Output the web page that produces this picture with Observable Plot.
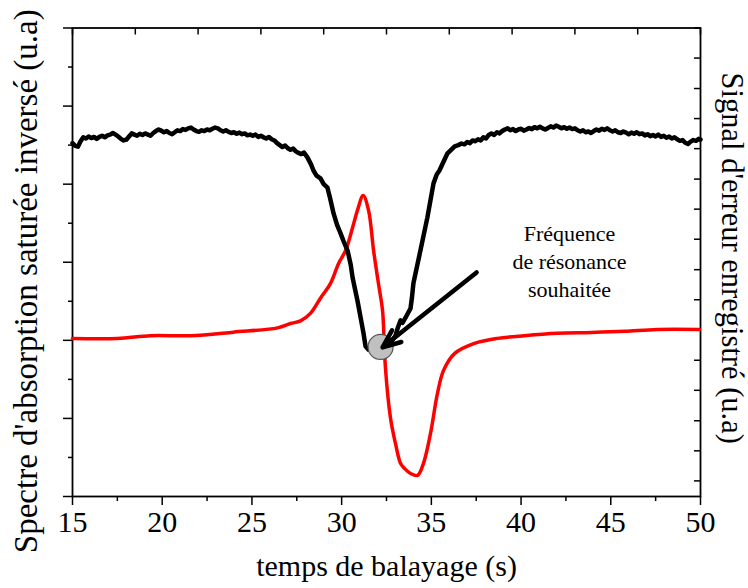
<!DOCTYPE html>
<html>
<head>
<meta charset="utf-8">
<script src="https://cdn.jsdelivr.net/npm/d3@7"></script>
<script src="https://cdn.jsdelivr.net/npm/@observablehq/plot@0.6"></script>
<style>
  html, body { margin: 0; padding: 0; background: #fff; }
  #chart svg { display: block; }
</style>
</head>
<body>
<div id="chart"></div>
<script>
// --- Data ---
const xLabel = "temps de balayage (s)";
const yLeftLabel = "Spectre d'absorption saturée inversé (u.a)";
const yRightLabel = "Signal d'erreur enregistré (u.a)";
const annotation = "Fréquence\nde résonance\nsouhaitée";

const xMajorTicks = [15, 20, 25, 30, 35, 40, 45, 50];
const xMinorTicks = [17.5, 22.5, 27.5, 32.5, 37.5, 42.5, 47.5];
const xTopTicks = [15, 18.5, 22, 25.5, 29, 32.5, 36, 39.5, 43, 46.5, 50];
const yMajorTicks = [0, 2, 4, 6, 8, 10, 12];
const yMinorTicks = [1, 3, 5, 7, 9, 11];
const yRightTicks = [12, 11.23, 10.45, 9.68, 8.91, 8.13, 7.36, 6.59, 5.81, 5.04, 4.27, 3.49, 2.72, 1.94, 1.17, 0.4];

// saturated absorption spectrum (black, noisy)
const absorption = [
  [15.00,9.05],[15.15,8.98],[15.30,8.96],[15.45,9.10],[15.60,9.20],[15.75,9.17],[15.90,9.22],[16.05,9.18],
  [16.20,9.21],[16.35,9.16],[16.50,9.21],[16.65,9.24],[16.80,9.20],[16.95,9.25],[17.10,9.27],[17.25,9.31],
  [17.40,9.27],[17.55,9.22],[17.70,9.16],[17.85,9.12],[18.00,9.14],[18.15,9.22],[18.30,9.30],[18.45,9.27],
  [18.60,9.24],[18.75,9.29],[18.90,9.26],[19.05,9.30],[19.20,9.27],[19.35,9.24],[19.50,9.31],[19.65,9.36],
  [19.80,9.40],[19.95,9.37],[20.10,9.33],[20.25,9.36],[20.40,9.31],[20.55,9.28],[20.70,9.33],[20.85,9.38],
  [21.00,9.36],[21.15,9.41],[21.30,9.39],[21.45,9.43],[21.60,9.45],[21.75,9.40],[21.90,9.36],[22.05,9.34],
  [22.20,9.38],[22.35,9.36],[22.50,9.40],[22.65,9.38],[22.80,9.42],[22.95,9.45],[23.10,9.43],[23.25,9.38],
  [23.40,9.35],[23.55,9.38],[23.70,9.34],[23.85,9.31],[24.00,9.33],[24.15,9.29],[24.30,9.32],[24.45,9.28],
  [24.60,9.30],[24.75,9.25],[24.90,9.27],[25.05,9.24],[25.20,9.27],[25.35,9.21],[25.50,9.24],[25.65,9.20],
  [25.80,9.17],[25.95,9.21],[26.10,9.15],[26.25,9.12],[26.40,9.05],[26.55,9.00],[26.70,8.95],[26.85,8.99],
  [27.00,8.92],[27.15,8.88],[27.30,8.91],[27.45,8.84],[27.60,8.80],[27.75,8.77],[27.90,8.81],[28.10,8.68],
  [28.30,8.50],[28.43,8.35],[28.60,8.22],[28.82,8.15],[29.00,8.00],[29.21,7.91],[29.35,7.65],[29.55,7.25],
  [29.75,6.95],[29.94,6.74],[30.10,6.55],[30.33,6.30],[30.50,5.95],[30.61,5.61],[30.75,5.30],[30.88,5.02],
  [31.05,4.60],[31.22,4.18],[31.33,3.85],[31.50,3.76],[31.72,3.74],[32.00,3.76],[32.44,3.79],[32.75,3.95],
  [33.00,4.12],[33.15,4.35],[33.28,4.51],[33.40,4.45],[33.56,4.58],[33.70,4.70],[33.84,4.82],[33.92,5.10],
  [34.00,5.46],[34.39,6.30],[34.78,7.15],[35.12,8.02],[35.30,8.25],[35.45,8.35],[35.65,8.55],[35.90,8.79],
  [36.10,8.88],[36.30,8.97],[36.50,9.00],[36.68,9.04],[36.85,9.02],[37.00,9.08],[37.15,9.05],[37.30,9.12],
  [37.45,9.10],[37.60,9.15],[37.75,9.12],[37.90,9.20],[38.05,9.17],[38.20,9.26],[38.35,9.30],[38.50,9.26],
  [38.65,9.33],[38.80,9.30],[38.95,9.36],[39.10,9.40],[39.25,9.43],[39.40,9.38],[39.55,9.41],[39.70,9.36],
  [39.85,9.40],[40.00,9.42],[40.15,9.37],[40.30,9.40],[40.45,9.44],[40.60,9.41],[40.75,9.46],[40.90,9.43],
  [41.05,9.47],[41.20,9.43],[41.35,9.40],[41.50,9.44],[41.65,9.48],[41.80,9.45],[41.95,9.50],[42.10,9.47],
  [42.25,9.43],[42.40,9.46],[42.55,9.42],[42.70,9.45],[42.85,9.41],[43.00,9.43],[43.15,9.38],[43.30,9.35],
  [43.45,9.38],[43.60,9.33],[43.75,9.35],[43.90,9.31],[44.05,9.36],[44.20,9.40],[44.35,9.37],[44.50,9.42],
  [44.65,9.39],[44.80,9.43],[44.95,9.38],[45.10,9.35],[45.25,9.38],[45.40,9.33],[45.55,9.31],[45.70,9.35],
  [45.85,9.32],[46.00,9.28],[46.15,9.32],[46.30,9.29],[46.45,9.33],[46.60,9.28],[46.75,9.30],[46.90,9.25],
  [47.05,9.28],[47.20,9.23],[47.35,9.26],[47.50,9.22],[47.65,9.27],[47.80,9.21],[47.95,9.24],[48.10,9.19],
  [48.25,9.22],[48.40,9.17],[48.55,9.20],[48.70,9.15],[48.85,9.11],[49.00,9.13],[49.15,9.06],[49.30,9.03],
  [49.45,9.09],[49.60,9.13],[49.75,9.11],[49.90,9.16],[50.00,9.14]
];

// error signal (red, smooth)
const errorSignal = [
  [15.00,4.05],[17.51,4.05],[19.35,4.12],[21.58,4.12],[23.97,4.21],[26.43,4.32],[27.15,4.43],[27.71,4.50],
  [28.26,4.69],[28.82,5.08],[29.38,5.46],[29.83,5.97],[30.22,6.30],[30.61,6.89],[30.88,7.33],[31.20,7.71],
  [31.50,7.33],[31.78,6.30],[32.05,5.46],[32.28,4.76],[32.36,4.07],[32.44,3.30],[32.72,2.02],[33.00,1.36],
  [33.28,0.85],[33.50,0.72],[33.84,0.59],[34.23,0.54],[34.56,0.85],[34.95,1.61],[35.34,2.64],[35.68,3.23],
  [36.29,3.66],[37.40,3.92],[38.69,4.05],[40.19,4.12],[42.03,4.18],[43.93,4.20],[45.76,4.23],[47.60,4.28],
  [49.94,4.28]
];

const resonancePoint = [[32.17, 3.83]];
const arrowFrom = [37.52, 5.74];
const arrowTo = [32.28, 3.82];
const annotationAt = [42.70, 6.05];

// --- Chart ---
const serif = "Liberation Serif";
const chart = Plot.plot({
  width: 748,
  height: 588,
  marginLeft: 72,
  marginRight: 48,
  marginTop: 27.5,
  marginBottom: 92,
  x: {domain: [15, 50]},
  y: {domain: [0, 12]},
  marks: [
    Plot.axisX(xMajorTicks, {anchor: "bottom", tickSize: 9, tickPadding: 5, fontSize: 30, fontFamily: serif, label: null, strokeWidth: 1.5}),
    Plot.axisX(xMinorTicks, {anchor: "bottom", tickSize: 5, fill: "none", label: null, strokeWidth: 1.5}),
    Plot.axisX(xTopTicks, {anchor: "top", tickSize: -6, fill: "none", label: null, strokeWidth: 1.5}),
    Plot.axisY(yMajorTicks, {anchor: "left", tickSize: 9, fill: "none", label: null, strokeWidth: 1.5}),
    Plot.axisY(yMinorTicks, {anchor: "left", tickSize: 4, fill: "none", label: null, strokeWidth: 1.5}),
    Plot.axisY(yRightTicks, {anchor: "right", tickSize: -7, fill: "none", label: null, strokeWidth: 1.5}),
    Plot.frame({stroke: "black", strokeWidth: 1.8}),
    Plot.line(errorSignal, {x: d => d[0], y: d => d[1], stroke: "#ff0000", strokeWidth: 3.5, curve: "catmull-rom"}),
    Plot.line(absorption, {x: d => d[0], y: d => d[1], stroke: "black", strokeWidth: 4.5, strokeLinejoin: "round"}),
    Plot.dot(resonancePoint, {x: d => d[0], y: d => d[1], r: 12.5, fill: "#c0c0c0", stroke: "#555", strokeWidth: 1.2}),
    Plot.arrow([{x1: arrowFrom[0], y1: arrowFrom[1], x2: arrowTo[0], y2: arrowTo[1]}],
      {x1: "x1", y1: "y1", x2: "x2", y2: "y2", stroke: "black", strokeWidth: 4.5, headLength: 6.5, headAngle: 45}),
    Plot.text([annotation], {x: annotationAt[0], y: annotationAt[1], fontSize: 22, lineHeight: 1.28, fill: "black", fontFamily: serif}),
    Plot.text([xLabel], {frameAnchor: "bottom", textAnchor: "middle", lineAnchor: "middle", dy: 70, fontSize: 30, fill: "black", fontFamily: serif}),
    Plot.text([yLeftLabel], {frameAnchor: "left", textAnchor: "middle", lineAnchor: "middle", dx: -46, dy: 19, rotate: -90, fontSize: 33, fill: "black", fontFamily: serif}),
    Plot.text([yRightLabel], {frameAnchor: "right", textAnchor: "middle", lineAnchor: "middle", dx: 31, dy: -4, rotate: 90, fontSize: 30.5, fill: "black", fontFamily: serif})
  ]
});
document.getElementById("chart").appendChild(chart);
</script>
</body>
</html>
